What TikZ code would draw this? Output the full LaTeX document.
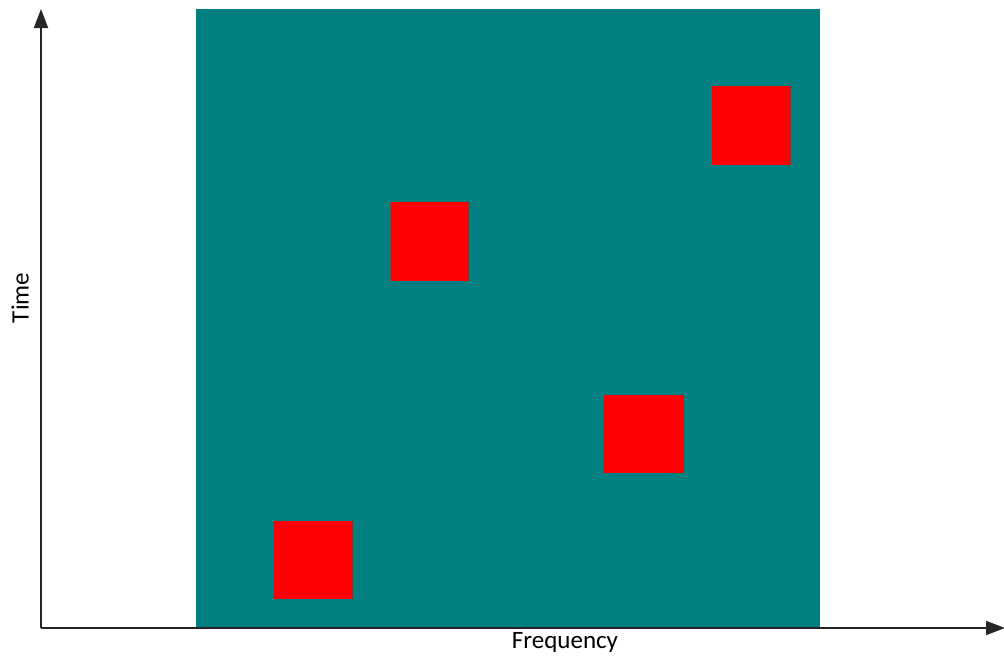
\documentclass[tikz,border=0pt]{standalone}
\usepackage{fontspec}
\setmainfont{Carlito}
\usetikzlibrary{arrows.meta}
\definecolor{teal0}{HTML}{008080}
\begin{document}
\begin{tikzpicture}[x=1pt,y=-1pt,
  block/.style={fill=red,draw=none},
  axis/.style={line width=1.8pt,draw=black!85,-{Triangle[length=19pt,width=14pt]}},
  lbl/.style={font=\fontsize{25}{28}\selectfont,text=black,inner sep=0pt}]
\useasboundingbox (0,0) rectangle (1004,656);
\fill[teal0] (196,9) rectangle (820,628);
\fill[block] (274,521) rectangle (353,599);
\fill[block] (391,202) rectangle (469,281);
\fill[block] (604,395) rectangle (684,473);
\fill[block] (712,86) rectangle (791,165);
\coordinate (o) at (41,628);
\coordinate (ytip) at (41,9);
\coordinate (xtip) at (1005,628);
\draw[axis] (o) -- (ytip);
\draw[axis] (o) -- (xtip);
\node[lbl] (fl) at (565,642) {Frequency};
\node[lbl,rotate=90] (tl) at (20,298) {Time};
\end{tikzpicture}
\end{document}
